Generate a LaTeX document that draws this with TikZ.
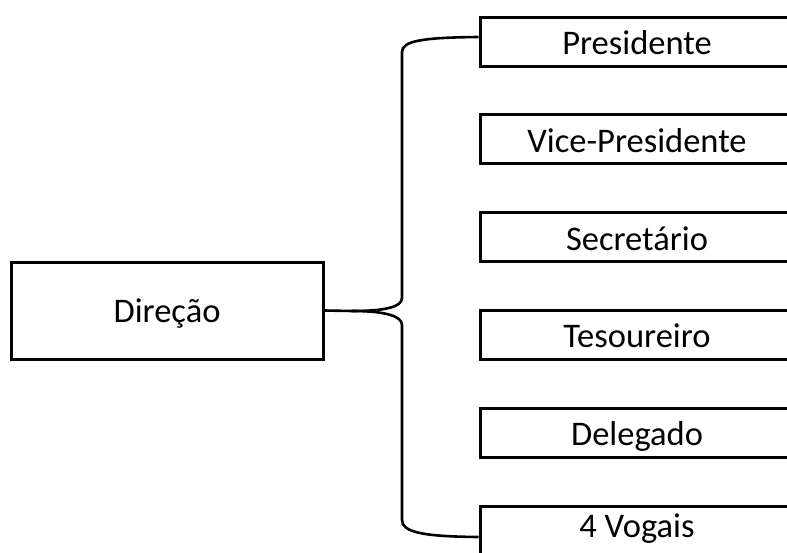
\documentclass[tikz,border=0pt]{standalone}
\usepackage{fontspec}
\setmainfont{Carlito}
\begin{document}
\begin{tikzpicture}[x=1pt,y=-1pt,
  box/.style={draw=black, line width=3pt, fill=white, inner sep=0pt,
    font=\fontsize{34.5}{40}\selectfont, text=black,
    text height=26pt, text depth=0pt},
  headbox/.style={box, minimum width=312pt, minimum height=97pt, text height=23pt},
  rolebox/.style={box, minimum width=314pt, minimum height=49pt},
  brace/.style={draw=black, line width=2.6pt, line join=round}]
  \clip (0,0) rectangle (787,552);
  \fill[white] (0,0) rectangle (787,552);

  % left box
  \node[headbox] (dir) at (167,310.5) {Direção};

  % right column of roles
  \node[rolebox] (pres) at (637,41.5)  {Presidente};
  \node[rolebox] (vice) at (637,139.3) {Vice-Presidente};
  \node[rolebox] (sec)  at (637,237.1) {Secretário};
  \node[rolebox] (tes)  at (637,334.9) {Tesoureiro};
  \node[rolebox] (del)  at (637,432.7) {Delegado};
  \node[rolebox, text height=14pt] (vog) at (637,530.5) {4 Vogais};

  % curly brace joining the head box to the column
  \coordinate (top)  at ([yshift=4.5pt]pres.west);
  \coordinate (bot)  at ([yshift=-6.5pt]vog.west);
  \coordinate (tip)  at (352,311);
  \draw[brace] (top) .. controls (422,37.5) and (402,41) .. (402,52)
    -- (402,298) .. controls (402,307) and (385,311) .. (tip)
    -- (dir.east);
  \draw[brace] (tip) .. controls (385,311) and (402,316) .. (402,325)
    -- (402,520) .. controls (402,532) and (422,536.5) .. (bot);
\end{tikzpicture}
\end{document}
